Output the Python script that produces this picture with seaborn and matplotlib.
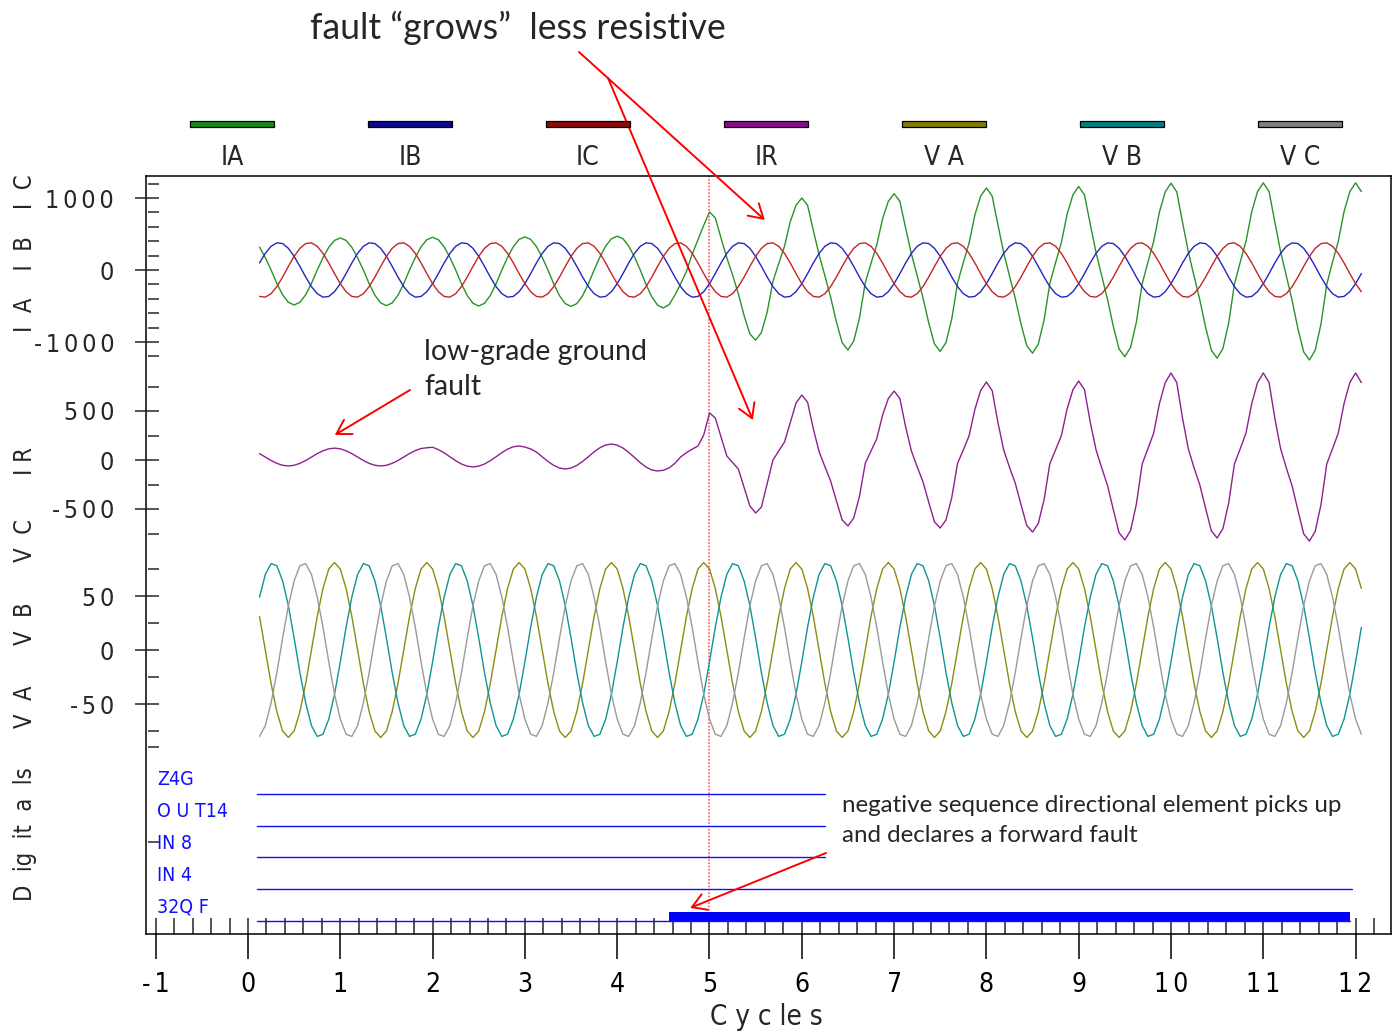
import numpy as np
import seaborn as sns
import matplotlib
matplotlib.use("Agg")
from matplotlib import pyplot as plt
from matplotlib.patches import Rectangle
import matplotlib.ticker as plticker

# ---- channel samples (16 samples per cycle, first sample at 2/16 cycle) ----
ia = [318, 172, 0, -186, -344, -449, -486, -449, -344, -186, 0, 170, 315, 411,
      445, 411, 315, 170, 0, -190, -350, -457, -495, -457, -350, -190, 0, 174, 322, 420,
      455, 420, 322, 174, 0, -192, -354, -462, -500, -462, -354, -192, 0, 176, 325, 425,
      460, 425, 325, 176, 0, -193, -357, -467, -505, -467, -357, -193, 0, 180, 332, 434,
      470, 434, 332, 180, 0, -202, -373, -488, -528, -480, -350, -190, -20, 220, 420, 620,
      805, 725, 443, 169, -68, -331, -634, -887, -975, -868, -585, -156, 90, 330, 670, 900,
      1000, 900, 550, 210, -78, -377, -722, -1010, -1110, -988, -666, -178, 95, 350, 710, 954,
      1060, 954, 583, 223, -79, -384, -735, -1028, -1130, -1006, -678, -181, 103, 376, 764, 1026,
      1140, 1026, 627, 239, -81, -393, -751, -1051, -1155, -1028, -693, -185, 104, 383, 777, 1044,
      1160, 1044, 638, 244, -84, -410, -783, -1097, -1205, -1072, -723, -193, 108, 398, 807, 1085,
      1205, 1085, 663, 253, -86, -417, -796, -1115, -1225, -1090, -735, -196, 109, 399, 811, 1089,
      1210, 1089, 666, 254, -88, -425, -813, -1138, -1250, -1113, -750, -200, 109, 399, 811, 1089,
      1210, 1089]

ib = [98, 231, 329, 377, 367, 301, 190, 50, -98, -231, -329, -377, -367, -301,
      -190, -50, 98, 231, 329, 377, 367, 301, 190, 50, -98, -231, -329, -377, -367, -301,
      -190, -50, 98, 231, 329, 377, 367, 301, 190, 50, -98, -231, -329, -377, -367, -301,
      -190, -50, 98, 231, 329, 377, 367, 301, 190, 50, -98, -231, -329, -377, -367, -301,
      -190, -50, 98, 231, 329, 377, 367, 301, 190, 50, -98, -231, -329, -377, -367, -301,
      -190, -50, 98, 231, 329, 377, 367, 301, 190, 50, -98, -231, -329, -377, -367, -301,
      -190, -50, 98, 231, 329, 377, 367, 301, 190, 50, -98, -231, -329, -377, -367, -301,
      -190, -50, 98, 231, 329, 377, 367, 301, 190, 50, -98, -231, -329, -377, -367, -301,
      -190, -50, 98, 231, 329, 377, 367, 301, 190, 50, -98, -231, -329, -377, -367, -301,
      -190, -50, 98, 231, 329, 377, 367, 301, 190, 50, -98, -231, -329, -377, -367, -301,
      -190, -50, 98, 231, 329, 377, 367, 301, 190, 50, -98, -231, -329, -377, -367, -301,
      -190, -50, 98, 231, 329, 377, 367, 301, 190, 50, -98, -231, -329, -377, -367, -301,
      -190, -50]

ic = [-367, -377, -329, -231, -98, 50, 190, 301, 367, 377, 329, 231, 98, -50,
      -190, -301, -367, -377, -329, -231, -98, 50, 190, 301, 367, 377, 329, 231, 98, -50,
      -190, -301, -367, -377, -329, -231, -98, 50, 190, 301, 367, 377, 329, 231, 98, -50,
      -190, -301, -367, -377, -329, -231, -98, 50, 190, 301, 367, 377, 329, 231, 98, -50,
      -190, -301, -367, -377, -329, -231, -98, 50, 190, 301, 367, 377, 329, 231, 98, -50,
      -190, -301, -367, -377, -329, -231, -98, 50, 190, 301, 367, 377, 329, 231, 98, -50,
      -190, -301, -367, -377, -329, -231, -98, 50, 190, 301, 367, 377, 329, 231, 98, -50,
      -190, -301, -367, -377, -329, -231, -98, 50, 190, 301, 367, 377, 329, 231, 98, -50,
      -190, -301, -367, -377, -329, -231, -98, 50, 190, 301, 367, 377, 329, 231, 98, -50,
      -190, -301, -367, -377, -329, -231, -98, 50, 190, 301, 367, 377, 329, 231, 98, -50,
      -190, -301, -367, -377, -329, -231, -98, 50, 190, 301, 367, 377, 329, 231, 98, -50,
      -190, -301, -367, -377, -329, -231, -98, 50, 190, 301, 367, 377, 329, 231, 98, -50,
      -190, -301]

ir = [65, 30, -5, -34, -54, -61, -54, -34, -5, 30, 65, 94, 114, 121,
      114, 94, 65, 30, -5, -34, -54, -61, -54, -34, -5, 30, 66, 96, 117, 125,
      130, 106, 73, 33, -7, -41, -63, -71, -63, -41, -7, 33, 75, 111, 135, 143,
      132, 113, 81, 33, -15, -55, -82, -92, -82, -55, -15, 33, 83, 125, 153, 163,
      152, 122, 78, 25, -27, -72, -102, -112, -105, -80, -35, 31, 75, 110, 143, 255,
      480, 429, 235, 41, -25, -92, -280, -469, -541, -480, -240, 0, 92, 184, 380, 582,
      663, 590, 318, 86, -67, -215, -417, -612, -673, -592, -370, -34, 92, 218, 458, 627,
      704, 627, 338, 92, -69, -222, -430, -632, -694, -611, -382, -35, 103, 247, 517, 708,
      796, 708, 382, 103, -74, -235, -456, -669, -735, -647, -404, -37, 105, 250, 524, 717,
      806, 717, 387, 105, -82, -261, -506, -743, -816, -718, -449, -41, 115, 275, 577, 790,
      888, 790, 426, 115, -80, -255, -494, -724, -796, -700, -438, -40, 115, 275, 577, 790,
      888, 790, 426, 115, -83, -265, -513, -753, -827, -728, -455, -41, 115, 275, 577, 790,
      888, 790]

va = [31, 0, -31, -57, -75, -81, -75, -57, -31, 0, 31, 57, 75, 81,
      75, 57, 31, 0, -31, -57, -75, -81, -75, -57, -31, 0, 31, 57, 75, 81,
      75, 57, 31, 0, -31, -57, -75, -81, -75, -57, -31, 0, 31, 57, 75, 81,
      75, 57, 31, 0, -31, -57, -75, -81, -75, -57, -31, 0, 31, 57, 75, 81,
      75, 57, 31, 0, -31, -57, -75, -81, -75, -57, -31, 0, 31, 57, 75, 81,
      75, 57, 31, 0, -31, -57, -75, -81, -75, -57, -31, 0, 31, 57, 75, 81,
      75, 57, 31, 0, -31, -57, -75, -81, -75, -57, -31, 0, 31, 57, 75, 81,
      75, 57, 31, 0, -31, -57, -75, -81, -75, -57, -31, 0, 31, 57, 75, 81,
      75, 57, 31, 0, -31, -57, -75, -81, -75, -57, -31, 0, 31, 57, 75, 81,
      75, 57, 31, 0, -31, -57, -75, -81, -75, -57, -31, 0, 31, 57, 75, 81,
      75, 57, 31, 0, -31, -57, -75, -81, -75, -57, -31, 0, 31, 57, 75, 81,
      75, 57, 31, 0, -31, -57, -75, -81, -75, -57, -31, 0, 31, 57, 75, 81,
      75, 57]

vb = [49, 70, 80, 78, 64, 41, 11, -21, -49, -70, -80, -78, -64, -41,
      -11, 21, 49, 70, 80, 78, 64, 41, 11, -21, -49, -70, -80, -78, -64, -41,
      -11, 21, 49, 70, 80, 78, 64, 41, 11, -21, -49, -70, -80, -78, -64, -41,
      -11, 21, 49, 70, 80, 78, 64, 41, 11, -21, -49, -70, -80, -78, -64, -41,
      -11, 21, 49, 70, 80, 78, 64, 41, 11, -21, -49, -70, -80, -78, -64, -41,
      -11, 21, 49, 70, 80, 78, 64, 41, 11, -21, -49, -70, -80, -78, -64, -41,
      -11, 21, 49, 70, 80, 78, 64, 41, 11, -21, -49, -70, -80, -78, -64, -41,
      -11, 21, 49, 70, 80, 78, 64, 41, 11, -21, -49, -70, -80, -78, -64, -41,
      -11, 21, 49, 70, 80, 78, 64, 41, 11, -21, -49, -70, -80, -78, -64, -41,
      -11, 21, 49, 70, 80, 78, 64, 41, 11, -21, -49, -70, -80, -78, -64, -41,
      -11, 21, 49, 70, 80, 78, 64, 41, 11, -21, -49, -70, -80, -78, -64, -41,
      -11, 21, 49, 70, 80, 78, 64, 41, 11, -21, -49, -70, -80, -78, -64, -41,
      -11, 21]

vc = [-80, -70, -49, -21, 11, 41, 64, 78, 80, 70, 49, 21, -11, -41,
      -64, -78, -80, -70, -49, -21, 11, 41, 64, 78, 80, 70, 49, 21, -11, -41,
      -64, -78, -80, -70, -49, -21, 11, 41, 64, 78, 80, 70, 49, 21, -11, -41,
      -64, -78, -80, -70, -49, -21, 11, 41, 64, 78, 80, 70, 49, 21, -11, -41,
      -64, -78, -80, -70, -49, -21, 11, 41, 64, 78, 80, 70, 49, 21, -11, -41,
      -64, -78, -80, -70, -49, -21, 11, 41, 64, 78, 80, 70, 49, 21, -11, -41,
      -64, -78, -80, -70, -49, -21, 11, 41, 64, 78, 80, 70, 49, 21, -11, -41,
      -64, -78, -80, -70, -49, -21, 11, 41, 64, 78, 80, 70, 49, 21, -11, -41,
      -64, -78, -80, -70, -49, -21, 11, 41, 64, 78, 80, 70, 49, 21, -11, -41,
      -64, -78, -80, -70, -49, -21, 11, 41, 64, 78, 80, 70, 49, 21, -11, -41,
      -64, -78, -80, -70, -49, -21, 11, 41, 64, 78, 80, 70, 49, 21, -11, -41,
      -64, -78, -80, -70, -49, -21, 11, 41, 64, 78, 80, 70, 49, 21, -11, -41,
      -64, -78]

# digital channels: thin trace from start to end, 32QF asserted interval
digital_names = ["Z4G", "O U T14", "IN 8", "IN 4", "32Q F"]
digital_start = [0.1, 0.1, 0.1, 0.1, 0.1]
digital_end = [6.25, 6.25, 6.25, 11.96, 11.94]
qf_asserted = (4.5625, 11.9375)

legend_names = ["IA", "IB", "IC", "IR", "V A", "V B", "V C"]
legend_colors = ["#138a13", "#0a0a8c", "#8c0a0a", "#8c0a8c", "#7f7f00", "#008080", "#808080"]
trace_colors = {"IA": "#2a922a", "IB": "#2424c4", "IC": "#c42424",
                "IR": "#8e208e", "VA": "#8c8c10", "VB": "#109494", "VC": "#9a9a9a"}

sp6 = "\u2006"   # narrow gap used between tick digits
x_ticks = list(range(-1, 13))
x_tick_labels = ["-" + sp6 + "1", "0", "1", "2", "3", "4", "5", "6", "7", "8", "9",
                 "1" + sp6 + "0", "1" + sp6 + "1", "1" + sp6 + "2"]
fault_cycle = 5

samples_per_cycle = 16
t = (np.arange(len(ia)) + 2) / samples_per_cycle

# ---- layout helpers (pixel positions of the 1398x1032 picture) ----
W, H = 1398, 1032
X0, PPC = 248, 92.3          # pixel of cycle 0, pixels per cycle


def box(left, top, right, bottom):
    return [left / W, 1 - bottom / H, (right - left) / W, (bottom - top) / H]


def fpos(x, y):
    return (x / W, 1 - y / H)


def cyc(px):
    return (px - X0) / PPC


def spaced(s):
    return sp6.join(s)


sns.set_style("white")
anno = ["Lato", "DejaVu Sans"]
plt.rcParams["font.family"] = ["DejaVu Sans"]
plt.rcParams["font.stretch"] = "condensed"

fig = plt.figure(figsize=(13.98, 10.32), dpi=100)

# outer frame carries the time axis
frame = fig.add_axes(box(146, 176, 1391, 934))
frame.set_xlim(cyc(146), cyc(1391))
frame.set_ylim(0, 1)
frame.set_yticks([])
for sp in frame.spines.values():
    sp.set_visible(True)
    sp.set_color("black")
    sp.set_linewidth(1.1)
frame.set_xticks(x_ticks)
frame.set_xticklabels(x_tick_labels, fontsize=19)
frame.xaxis.set_minor_locator(plticker.MultipleLocator(0.2))
frame.xaxis.remove_overlapping_locs = False
frame.tick_params(axis="x", which="major", direction="out", length=18, width=1.1,
                  pad=9, bottom=True, colors="black")
frame.tick_params(axis="x", which="minor", direction="in", length=11.5, width=1.1,
                  bottom=True)
frame.axvline(fault_cycle, color="#ff5a5a", ls=(0, (1, 1)), lw=1.2, zorder=0)


def panel(top, bottom, ylim, major, minor):
    ax = fig.add_axes(box(159, top, 1391, bottom))
    ax.set_xlim(cyc(159), cyc(1391))
    ax.set_ylim(*ylim)
    ax.patch.set_visible(False)
    for sp in ax.spines.values():
        sp.set_visible(False)
    ax.set_xticks([])
    ax.set_yticks(major)
    ax.set_yticklabels([spaced(str(v)) for v in major], fontsize=18)
    ax.set_yticks(minor, minor=True)
    ax.tick_params(axis="y", which="major", direction="out", length=17.3, width=1.1,
                   pad=15, left=True)
    ax.tick_params(axis="y", which="minor", direction="out", length=8, width=1.1, left=True)
    return ax


ax_i = panel(183.6, 356.4, (-1200, 1200), [-1000, 0, 1000],
             [-1200, -800, -600, -400, -200, 200, 400, 600, 800, 1200])
ax_r = panel(386.5, 533.5, (-750, 750), [-500, 0, 500], [-750, -250, 250, 750])
ax_v = panel(569, 747.2, (-90, 75), [-50, 0, 50], [-90, -75, -25, 25, 75])
ax_d = panel(765, 934, (-0.41, 4.91), [], [2.5])

for name, vals, ax in [("IA", ia, ax_i), ("IB", ib, ax_i), ("IC", ic, ax_i),
                       ("IR", ir, ax_r),
                       ("VA", va, ax_v), ("VB", vb, ax_v), ("VC", vc, ax_v)]:
    sns.lineplot(x=t, y=vals, color=trace_colors[name], lw=1.0, ax=ax,
                 clip_on=False, legend=False, sort=False, estimator=None)

for i, name in enumerate(digital_names):
    lvl = len(digital_names) - 1 - i
    sns.lineplot(x=[digital_start[i], digital_end[i]], y=[lvl, lvl], color="#1010ff",
                 lw=1.0, ax=ax_d, clip_on=False, legend=False)
    ax_d.text(cyc(157), lvl + 0.44, name, color="#1010ff", fontsize=14,
              ha="left", va="center", clip_on=False)
ax_d.fill_between(list(qf_asserted), 0, 0.28, color="#0000ff", lw=0)
for a in (ax_i, ax_r, ax_v, ax_d):
    a.set_xlabel("")
    a.set_ylabel("")

# legend strip
for i, (name, col) in enumerate(zip(legend_names, legend_colors)):
    cx = 232 + 178 * i
    fig.add_artist(Rectangle(fpos(cx - 42, 127), 84 / W, 6 / H, transform=fig.transFigure,
                             facecolor=col, edgecolor="black", lw=0.9))
    fig.text(*fpos(cx, 158), name, fontsize=19, ha="center", va="center")

# axis labels
fig.text(*fpos(766, 1017), "C y c le s", fontsize=20, ha="center", va="center")
side = dict(fontsize=17, rotation=90, ha="center", va="center")
fig.text(*fpos(25, 253), "I  A    I  B    I  C", **side)
fig.text(*fpos(25, 461), "I R", **side)
fig.text(*fpos(25, 624), "V  A      V  B      V  C", **side)
fig.text(*fpos(25, 834), "D  ig  it  a  ls", **side)

# annotations
fig.text(*fpos(310, 39), "fault \u201cgrows\u201d  less resistive", fontsize=25.6,
         family=anno, ha="left", va="baseline")
fig.text(*fpos(424, 339), "low-grade ground\nfault", fontsize=20.5, family=anno,
         ha="left", va="top", linespacing=1.45)
fig.text(*fpos(842, 795), "negative sequence directional element picks up\n"
         "and declares a forward fault", fontsize=17.4, family=anno,
         ha="left", va="top", linespacing=1.5)

arrow = dict(arrowstyle="->, head_length=0.5, head_width=0.3", color="red", lw=1.4,
             shrinkA=0, shrinkB=0, mutation_scale=20)
ax_d.annotate("", xy=(5.6, 694), xycoords=ax_i.transData,
              xytext=fpos(579, 52), textcoords="figure fraction",
              arrowprops=arrow, annotation_clip=False)
ax_d.annotate("", xy=(5.47, 408), xycoords=ax_r.transData,
              xytext=fpos(608, 78), textcoords="figure fraction",
              arrowprops=arrow, annotation_clip=False)
ax_d.annotate("", xy=(0.94, 255), xycoords=ax_r.transData,
              xytext=fpos(410, 390), textcoords="figure fraction",
              arrowprops=arrow, annotation_clip=False)
ax_d.annotate("", xy=(4.79, 0.41), xycoords=ax_d.transData,
              xytext=fpos(826, 853), textcoords="figure fraction",
              arrowprops=arrow, annotation_clip=False)

fig.savefig("out.png", dpi=100)
